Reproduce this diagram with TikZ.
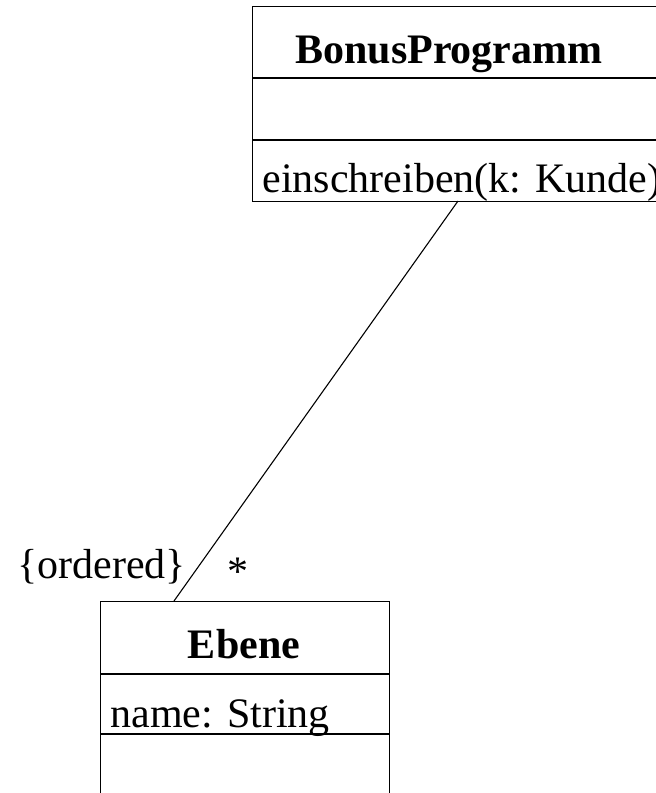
\documentclass[tikz,border=0pt]{standalone}
\usepackage{fontspec}
\setmainfont{Liberation Serif}
\begin{document}
\begin{tikzpicture}[x=1pt,y=-1pt,
  line width=1.1pt,
  classbox/.style={draw, line width=1.1pt, inner sep=0pt, anchor=north west},
  txt/.style={inner sep=0pt, font=\fontsize{42}{48}\selectfont},
  boldtxt/.style={txt, font=\fontsize{42}{48}\selectfont\bfseries}]
\useasboundingbox (0,0) rectangle (656,793);
\clip (0,0) rectangle (656,793);
% top class
\node[classbox, minimum width=460pt, minimum height=195pt] (bp) at (252,6) {};
\draw (252,78) -- (712,78);
\draw (252,140) -- (712,140);
\node[boldtxt, anchor=base] (bpname) at (449,63) {BonusProgramm};
\node[txt, anchor=base west] (bpop) at (262,192) {einschreiben(k: Kunde)};
% bottom class
\node[classbox, minimum width=289pt, minimum height=230pt] (eb) at (100,601) {};
\draw (100,674) -- (389,674);
\draw (100,734) -- (389,734);
\node[boldtxt, anchor=base] (ebname) at (244,658) {Ebene};
\node[txt, anchor=base west] (ebattr) at (110,727) {name: String};
% association
\coordinate (a1) at (458,201);
\coordinate (a2) at (174,601);
\draw (a1) -- (a2);
\node[txt, anchor=base west] (ord) at (17,578) {\{ordered\}};
\node[txt, anchor=center] (mult) at (238,572) {*};
\end{tikzpicture}
\end{document}
